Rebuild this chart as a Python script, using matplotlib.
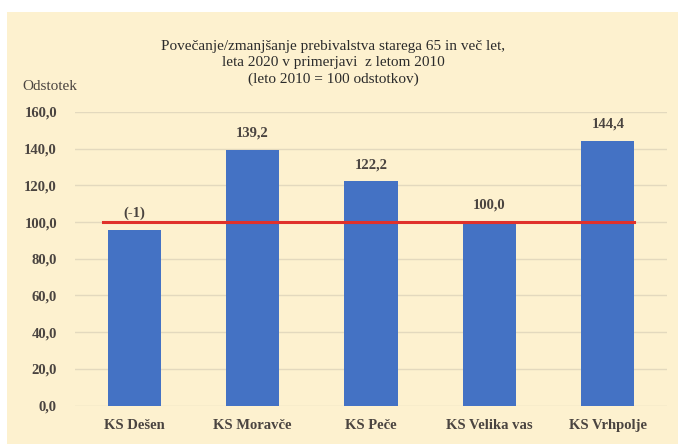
import matplotlib
matplotlib.use("Agg")
import matplotlib.pyplot as plt
from matplotlib.patches import Rectangle

# data
categories = ["KS Dešen", "KS Moravče", "KS Peče", "KS Velika vas", "KS Vrhpolje"]
values = [95.6, 139.2, 122.2, 100.0, 144.4]
value_labels = ["(-1)", "139,2", "122,2", "100,0", "144,4"]
reference_level = 100.0
y_ticks = [0, 20, 40, 60, 80, 100, 120, 140, 160]

BG = "#FDF1CF"
BAR = "#4472C4"
TXT = "#4A4440"

plt.rcParams['font.family'] = ['Liberation Serif', 'DejaVu Serif']

fig = plt.figure(figsize=(6.78, 4.44), dpi=100)
fig.patch.set_facecolor("white")
fig.patches.append(Rectangle((7 / 678, 0), 1, 1 - 12 / 444, transform=fig.transFigure,
                             facecolor=BG, edgecolor="none", zorder=-10))

ax = fig.add_axes([75 / 678, 1 - 405.5 / 444, 592 / 678, (405.5 - 112) / 444])
ax.set_facecolor("none")

x = range(len(categories))
bar_w = 0.45
ax.bar(x, values, width=bar_w, color=BAR, zorder=2)

# reference line at 100
ax.plot([0 - bar_w / 2 - 0.04, len(categories) - 1 + bar_w / 2],
        [reference_level, reference_level], color="#E0312B", lw=2.2, zorder=3)

for xi, v, lab in zip(x, values, value_labels):
    ax.annotate(lab, (xi, v), xytext=(0, 12), textcoords="offset points",
                ha="center", va="center", fontsize=10.5, fontweight="bold", color=TXT)

ax.set_xlim(-0.5, len(categories) - 0.5)
ax.set_ylim(0, 160)
ax.set_yticks(y_ticks)
ax.set_yticklabels([f"{t:.1f}".replace(".", ",") for t in y_ticks],
                   fontsize=10.5, fontweight="bold", color=TXT)
ax.set_xticks(list(x))
ax.set_xticklabels(categories, fontsize=10.5, fontweight="bold", color=TXT)
ax.tick_params(axis="both", length=0)
ax.tick_params(axis="y", pad=13)
ax.tick_params(axis="x", pad=10)
ax.grid(axis="y", color="#E3D9BE", lw=1, zorder=1)
for s in ax.spines.values():
    s.set_visible(False)

fig.text(22 / 678, 1 - 86 / 444, "Odstotek", fontsize=11, color=TXT, va="center", ha="left")
fig.text(333 / 678, 1 - 63 / 444,
         "Povečanje/zmanjšanje prebivalstva starega 65 in več let,\n"
         "leta 2020 v primerjavi  z letom 2010\n"
         "(leto 2010 = 100 odstotkov)",
         fontsize=11, color="#2B2B2B", ha="center", va="center", linespacing=1.3)

fig.savefig("out.png", dpi=100, facecolor=fig.get_facecolor())
